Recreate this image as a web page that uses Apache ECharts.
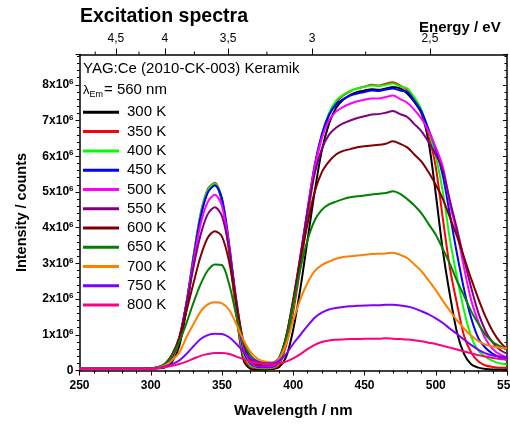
<!DOCTYPE html>
<html>
<head>
<meta charset="utf-8">
<title>Excitation spectra</title>
<script src="https://cdn.jsdelivr.net/npm/echarts@6/dist/echarts.min.js"></script>
<style>
  html, body { margin: 0; padding: 0; background: #ffffff; }
  #chart { width: 510px; height: 425px; }
</style>
</head>
<body>
<div id="chart"></div>
<script>
// Wavelength grid (nm)
const wavelengths = [
  250, 255, 260, 265, 270, 275, 280, 285, 290, 295,
  300, 305, 310, 315, 320, 325, 330, 335, 340, 345,
  350, 355, 360, 365, 370, 375, 380, 385, 390, 395,
  400, 405, 410, 415, 420, 425, 430, 435, 440, 445,
  450, 455, 460, 465, 470, 475, 480, 485, 490, 495,
  500, 505, 510, 515, 520, 525, 530, 535, 540, 545,
  550
];

// Intensity in units of 10^6 counts, one list per temperature
const i300 = [
  0.05, 0.05, 0.05, 0.05, 0.05, 0.05, 0.05, 0.05, 0.05, 0.05,
  0.05, 0.06, 0.09, 0.25, 0.68, 1.70, 3.05, 4.30, 5.02, 5.20,
  4.72, 3.45, 1.65, 0.30, 0.05, 0.03, 0.03, 0.04, 0.09, 0.38,
  1.15, 2.30, 3.65, 5.00, 6.15, 6.90, 7.35, 7.58, 7.72, 7.80,
  7.84, 7.88, 7.86, 7.90, 7.94, 7.90, 7.76, 7.52, 7.20, 6.40,
  4.95, 3.35, 2.10, 1.05, 0.45, 0.17, 0.08, 0.04, 0.03, 0.03,
  0.03
];
const i350 = [
  0.05, 0.05, 0.05, 0.05, 0.05, 0.05, 0.05, 0.05, 0.05, 0.05,
  0.06, 0.07, 0.12, 0.32, 0.82, 1.85, 3.20, 4.40, 5.08, 5.26,
  4.75, 3.30, 1.60, 0.38, 0.10, 0.06, 0.05, 0.06, 0.15, 0.70,
  1.65, 2.90, 4.25, 5.60, 6.55, 7.15, 7.50, 7.70, 7.82, 7.90,
  7.95, 8.00, 7.98, 8.03, 8.07, 7.98, 7.85, 7.60, 7.25, 6.60,
  5.70, 4.25, 2.85, 1.85, 0.95, 0.50, 0.25, 0.14, 0.10, 0.08,
  0.08
];
const i400 = [
  0.05, 0.05, 0.05, 0.05, 0.05, 0.05, 0.05, 0.05, 0.05, 0.05,
  0.06, 0.08, 0.14, 0.36, 0.86, 1.88, 3.20, 4.38, 5.05, 5.24,
  4.80, 3.45, 1.75, 0.48, 0.14, 0.08, 0.07, 0.08, 0.20, 0.80,
  1.80, 3.05, 4.40, 5.70, 6.60, 7.20, 7.55, 7.72, 7.83, 7.90,
  7.95, 7.98, 7.97, 8.00, 8.04, 7.96, 7.90, 7.65, 7.30, 6.70,
  6.00, 5.00, 3.65, 2.60, 1.65, 0.93, 0.55, 0.38, 0.27, 0.20,
  0.17
];
const i450 = [
  0.05, 0.05, 0.05, 0.05, 0.05, 0.05, 0.05, 0.05, 0.05, 0.05,
  0.06, 0.08, 0.15, 0.38, 0.88, 1.88, 3.15, 4.30, 4.98, 5.18,
  4.82, 3.55, 1.85, 0.58, 0.19, 0.10, 0.09, 0.10, 0.24, 0.85,
  1.90, 3.15, 4.50, 5.75, 6.60, 7.15, 7.45, 7.60, 7.70, 7.76,
  7.80, 7.84, 7.83, 7.87, 7.90, 7.84, 7.80, 7.55, 7.25, 6.75,
  6.20, 5.45, 4.35, 3.25, 2.25, 1.45, 0.90, 0.63, 0.47, 0.37,
  0.30
];
const i500 = [
  0.05, 0.05, 0.05, 0.05, 0.05, 0.05, 0.05, 0.05, 0.05, 0.05,
  0.06, 0.08, 0.16, 0.40, 0.90, 1.88, 3.05, 4.10, 4.72, 4.92,
  4.60, 3.50, 1.95, 0.66, 0.23, 0.12, 0.11, 0.12, 0.27, 0.90,
  1.95, 3.20, 4.50, 5.70, 6.50, 7.00, 7.25, 7.38, 7.47, 7.54,
  7.58, 7.62, 7.62, 7.66, 7.70, 7.60, 7.50, 7.30, 7.05, 6.70,
  6.25, 5.70, 4.65, 3.85, 2.85, 1.95, 1.35, 0.88, 0.60, 0.45,
  0.37
];
const i550 = [
  0.05, 0.05, 0.05, 0.05, 0.05, 0.05, 0.05, 0.05, 0.05, 0.05,
  0.06, 0.09, 0.18, 0.44, 0.93, 1.85, 2.90, 3.80, 4.38, 4.57,
  4.32, 3.40, 2.00, 0.76, 0.28, 0.15, 0.14, 0.16, 0.30, 0.95,
  2.00, 3.20, 4.45, 5.50, 6.20, 6.60, 6.80, 6.92, 7.00, 7.07,
  7.12, 7.17, 7.18, 7.22, 7.27, 7.18, 7.10, 6.90, 6.70, 6.40,
  6.05, 5.60, 4.75, 3.95, 3.10, 2.30, 1.60, 1.10, 0.78, 0.58,
  0.47
];
const i600 = [
  0.05, 0.05, 0.05, 0.05, 0.05, 0.05, 0.05, 0.05, 0.05, 0.05,
  0.06, 0.09, 0.19, 0.45, 0.90, 1.65, 2.45, 3.20, 3.72, 3.90,
  3.75, 3.05, 1.90, 0.82, 0.32, 0.19, 0.18, 0.20, 0.35, 0.95,
  1.95, 3.10, 4.10, 5.00, 5.55, 5.85, 6.05, 6.15, 6.20, 6.25,
  6.28, 6.30, 6.32, 6.35, 6.42, 6.35, 6.25, 6.05, 5.85, 5.55,
  5.20, 4.80, 4.28, 3.75, 3.15, 2.55, 2.00, 1.50, 1.10, 0.80,
  0.60
];
const i650 = [
  0.05, 0.05, 0.05, 0.05, 0.05, 0.05, 0.05, 0.05, 0.05, 0.05,
  0.06, 0.09, 0.18, 0.42, 0.80, 1.32, 1.90, 2.42, 2.80, 2.97,
  2.95, 2.42, 1.55, 0.80, 0.42, 0.26, 0.22, 0.22, 0.35, 0.90,
  1.85, 2.85, 3.65, 4.20, 4.50, 4.65, 4.73, 4.80, 4.85, 4.88,
  4.90, 4.93, 4.95, 4.97, 5.02, 4.95, 4.80, 4.62, 4.40, 4.10,
  3.80, 3.40, 2.98, 2.50, 2.08, 1.65, 1.30, 1.00, 0.80, 0.68,
  0.58
];
const i700 = [
  0.05, 0.05, 0.05, 0.05, 0.05, 0.05, 0.05, 0.05, 0.05, 0.05,
  0.05, 0.08, 0.14, 0.29, 0.50, 0.93, 1.30, 1.65, 1.85, 1.91,
  1.88, 1.70, 1.30, 0.86, 0.52, 0.33, 0.25, 0.22, 0.33, 0.74,
  1.40, 2.00, 2.45, 2.78, 2.95, 3.05, 3.13, 3.18, 3.20, 3.22,
  3.24, 3.26, 3.27, 3.28, 3.30, 3.24, 3.15, 2.97, 2.78, 2.52,
  2.25, 1.95, 1.67, 1.40, 1.17, 0.97, 0.82, 0.72, 0.67, 0.64,
  0.62
];
const i750 = [
  0.05, 0.05, 0.05, 0.05, 0.05, 0.05, 0.05, 0.05, 0.05, 0.05,
  0.05, 0.07, 0.11, 0.18, 0.28, 0.46, 0.68, 0.88, 0.99, 1.03,
  1.02, 0.93, 0.75, 0.53, 0.35, 0.24, 0.20, 0.20, 0.27, 0.46,
  0.75, 1.00, 1.25, 1.48, 1.62, 1.71, 1.75, 1.78, 1.80, 1.81,
  1.82, 1.83, 1.83, 1.84, 1.84, 1.82, 1.79, 1.74, 1.66, 1.57,
  1.46, 1.33, 1.17, 1.02, 0.86, 0.71, 0.58, 0.48, 0.42, 0.39,
  0.37
];
const i800 = [
  0.04, 0.04, 0.04, 0.04, 0.04, 0.04, 0.04, 0.04, 0.04, 0.04,
  0.04, 0.06, 0.09, 0.13, 0.18, 0.25, 0.33, 0.41, 0.46, 0.49,
  0.49, 0.46, 0.39, 0.32, 0.25, 0.20, 0.18, 0.17, 0.19, 0.25,
  0.34, 0.46, 0.60, 0.72, 0.80, 0.84, 0.86, 0.87, 0.88, 0.88,
  0.89, 0.89, 0.89, 0.90, 0.89, 0.88, 0.87, 0.85, 0.82, 0.78,
  0.74, 0.69, 0.64, 0.59, 0.53, 0.48, 0.43, 0.39, 0.35, 0.32,
  0.30
];

const seriesNames = ['300 K', '350 K', '400 K', '450 K', '500 K', '550 K',
                     '600 K', '650 K', '700 K', '750 K', '800 K'];
const seriesValues = [i300, i350, i400, i450, i500, i550, i600, i650, i700, i750, i800];
const seriesColors = ['#000000', '#ff0000', '#00ff00', '#0000ff', '#ff00ff', '#800080',
                      '#800000', '#008000', '#ff8000', '#8000ff', '#ff0080'];

// Photon energy ticks for the top axis (eV)
const energyMajor = [4.5, 4, 3.5, 3, 2.5];
const energyMajorLabels = ['4,5', '4', '3,5', '3', '2,5'];
const energyMinor = [4.75, 4.25, 3.75, 3.25, 2.75];

const HC = 1239.84; // eV·nm
const toWl = e => HC / e;
const majorWl = energyMajor.map(toWl);
const minorWl = energyMinor.map(toWl);

const FONT = 'Liberation Sans, Arial, Helvetica, sans-serif';
const X_MIN = 250, X_MAX = 550, Y_MAX = 8.85;

const chart = echarts.init(document.getElementById('chart'), null, { renderer: 'canvas' });

const lineSeries = seriesNames.map((name, k) => ({
  name: name,
  type: 'line',
  xAxisIndex: 0,
  yAxisIndex: 0,
  data: wavelengths.map((w, j) => [w, seriesValues[k][j]]),
  showSymbol: false,
  symbol: 'none',
  smooth: 0.3,
  lineStyle: { color: seriesColors[k], width: 2 },
  itemStyle: { color: seriesColors[k] },
  silent: true,
  animation: false
}));

// short minor ticks of the energy scale, placed through the top axis
const minorTickSeries = {
  type: 'custom',
  xAxisIndex: 1,
  yAxisIndex: 0,
  silent: true,
  animation: false,
  clip: false,
  data: minorWl.map(w => [w, Y_MAX]),
  renderItem: (params, api) => {
    const p = api.coord([api.value(0), api.value(1)]);
    return {
      type: 'line',
      shape: { x1: p[0], y1: p[1], x2: p[0], y2: p[1] - 3 },
      style: { stroke: '#000', lineWidth: 1 }
    };
  }
};

const option = {
  backgroundColor: '#ffffff',
  animation: false,
  grid: { left: 79.5, right: 3, top: 54.5, bottom: 54.5, containLabel: false, outerBoundsMode: 'none' },
  legend: {
    left: 83,
    top: 102.7,
    orient: 'vertical',
    padding: 0,
    itemGap: 0,
    icon: 'rect',
    itemWidth: 36,
    itemHeight: 3,
    selectedMode: false,
    data: seriesNames,
    textStyle: { fontFamily: FONT, fontSize: 15, color: '#000', lineHeight: 19.27, padding: [0, 0, 0, 3] }
  },
  xAxis: [
    {
      type: 'value',
      position: 'bottom',
      min: X_MIN,
      max: X_MAX,
      interval: 50,
      name: 'Wavelength / nm',
      nameLocation: 'middle',
      nameGap: 33,
      nameTextStyle: { fontFamily: FONT, fontSize: 15, fontWeight: 'bold', color: '#000' },
      axisLine: { show: true, onZero: false, lineStyle: { color: '#000', width: 1.5 } },
      axisTick: { show: true, inside: false, length: 5, lineStyle: { color: '#000', width: 1 } },
      minorTick: { show: true, splitNumber: 5, length: 3, lineStyle: { color: '#000', width: 1 } },
      axisLabel: { show: true, margin: 9, fontFamily: FONT, fontSize: 12, fontWeight: 'bold', color: '#000' },
      splitLine: { show: false }
    },
    {
      type: 'value',
      position: 'top',
      min: X_MIN,
      max: X_MAX,
      axisLine: { show: true, onZero: false, lineStyle: { color: '#000', width: 1.5 } },
      axisTick: { show: true, inside: false, length: 6, customValues: majorWl, lineStyle: { color: '#000', width: 1 } },
      axisLabel: {
        show: true,
        customValues: majorWl,
        margin: 10,
        fontFamily: FONT,
        fontSize: 12,
        color: '#000',
        formatter: v => {
          let best = 0, d = Infinity;
          majorWl.forEach((w, i) => { if (Math.abs(w - v) < d) { d = Math.abs(w - v); best = i; } });
          return energyMajorLabels[best];
        }
      },
      splitLine: { show: false }
    }
  ],
  yAxis: [
    {
      type: 'value',
      position: 'left',
      min: 0,
      max: Y_MAX,
      interval: 1,
      name: 'Intensity / counts',
      nameLocation: 'middle',
      nameGap: 50,
      nameRotate: 90,
      nameTextStyle: { fontFamily: FONT, fontSize: 14.5, fontWeight: 'bold', color: '#000' },
      axisLine: { show: true, onZero: false, lineStyle: { color: '#000', width: 1.5 } },
      axisTick: { show: true, inside: false, length: 4, lineStyle: { color: '#000', width: 1 } },
      minorTick: { show: true, splitNumber: 5, length: 2.5, lineStyle: { color: '#000', width: 1 } },
      axisLabel: {
        show: true,
        margin: 6,
        showMaxLabel: false,
        formatter: v => (v === 0 ? '{m|0}' : (v > 8.5 ? '' : '{m|' + v + 'x10}{s|6}')),
        rich: {
          m: { fontFamily: FONT, fontSize: 12, fontWeight: 'bold', color: '#000', lineHeight: 14 },
          s: { fontFamily: FONT, fontSize: 8, fontWeight: 'bold', color: '#000', lineHeight: 14, verticalAlign: 'top' }
        }
      },
      splitLine: { show: false }
    },
    {
      type: 'value',
      position: 'right',
      min: 0,
      max: Y_MAX,
      interval: 1,
      axisLine: { show: true, onZero: false, lineStyle: { color: '#000', width: 1.5 } },
      axisTick: { show: true, inside: true, length: 4, lineStyle: { color: '#000', width: 1 } },
      minorTick: { show: true, splitNumber: 5, length: 2.5, lineStyle: { color: '#000', width: 1 } },
      axisLabel: { show: false },
      splitLine: { show: false }
    }
  ],
  graphic: [
    {
      type: 'text', x: 80, y: 17, silent: true,
      style: { text: 'Excitation spectra', fontFamily: FONT, fontSize: 19.5, fontWeight: 'bold', fill: '#000', verticalAlign: 'middle' }
    },
    {
      type: 'text', x: 419, y: 28, silent: true,
      style: { text: 'Energy / eV', fontFamily: FONT, fontSize: 15, fontWeight: 'bold', fill: '#000', verticalAlign: 'middle' }
    },
    {
      type: 'text', x: 83, y: 69, silent: true,
      style: { text: 'YAG:Ce (2010-CK-003) Keramik', fontFamily: FONT, fontSize: 15, fill: '#000', verticalAlign: 'middle' }
    },
    {
      type: 'text', x: 83, y: 90, silent: true,
      style: {
        text: '{l|λ}{s|Em}{t|= 560 nm}',
        verticalAlign: 'middle',
        rich: {
          l: { fontFamily: FONT, fontSize: 13, fill: '#000', color: '#000', lineHeight: 18 },
          s: { fontFamily: FONT, fontSize: 9, fill: '#000', color: '#000', lineHeight: 18, verticalAlign: 'bottom' },
          t: { fontFamily: FONT, fontSize: 15, fill: '#000', color: '#000', lineHeight: 18, padding: [0, 0, 0, 1] }
        }
      }
    }
  ],
  series: lineSeries.concat([minorTickSeries])
};

chart.setOption(option);
</script>
</body>
</html>
